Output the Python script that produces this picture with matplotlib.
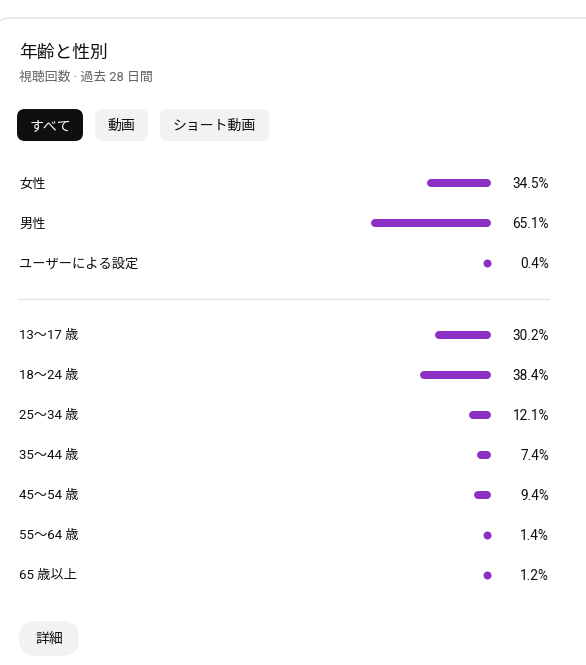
import matplotlib
matplotlib.use("Agg")
import matplotlib.pyplot as plt
from matplotlib.patches import FancyBboxPatch

plt.rcParams['font.family'] = ['Roboto', 'Noto Sans CJK JP', 'DejaVu Sans']

# data
title = "年齢と性別"
subtitle = "視聴回数 · 過去 28 日間"
tabs = ["すべて", "動画", "ショート動画"]
gender_labels = ["女性", "男性", "ユーザーによる設定"]
gender_values = [34.5, 65.1, 0.4]
age_labels = ["13〜17 歳", "18〜24 歳", "25〜34 歳", "35〜44 歳", "45〜54 歳", "55〜64 歳", "65 歳以上"]
age_values = [30.2, 38.4, 12.1, 7.4, 9.4, 1.4, 1.2]

W, H = 586, 665
PURPLE = "#8c2fc4"
PX_PER_PCT = 1.843
BAR_RIGHT = 491
BAR_H = 8

fig = plt.figure(figsize=(W / 100, H / 100), dpi=100)
ax = fig.add_axes([0, 0, 1, 1])
ax.set_xlim(0, W)
ax.set_ylim(H, 0)
ax.axis("off")

# card outline (left edge sits just off the picture)
card = FancyBboxPatch((-4, 18), W + 40, H + 40, boxstyle="round,pad=0,rounding_size=14",
                      fc="white", ec="#e3e3e3", lw=1.0)
ax.add_patch(card)

ax.text(19, 53, title, fontsize=12.8, color="#0f0f0f", va="center")
ax.text(19, 77, subtitle, fontsize=9.3, color="#606060", va="center")

# tab pills
tab_x = [(17, 83), (95, 148), (160, 269)]
for i, (lab, (x0, x1)) in enumerate(zip(tabs, tab_x)):
    fc = "#0f0f0f" if i == 0 else "#f2f2f2"
    tc = "white" if i == 0 else "#0f0f0f"
    ax.add_patch(FancyBboxPatch((x0, 109), x1 - x0, 32, boxstyle="round,pad=0,rounding_size=8",
                                fc=fc, ec="none"))
    ax.text((x0 + x1) / 2, 126, lab, fontsize=10, color=tc, va="center", ha="center")

# bar axes: x in percent, growing to the left from BAR_RIGHT
bax = fig.add_axes([0, 0, BAR_RIGHT / W, 1])
bax.set_xlim(BAR_RIGHT / PX_PER_PCT, 0)
bax.set_ylim(H, 0)
bax.axis("off")
cap = (BAR_H / 2) / PX_PER_PCT
lw_pt = BAR_H * 72 / 100


def draw_rows(labels, values, y0, step):
    for i, (lab, v) in enumerate(zip(labels, values)):
        y = y0 + i * step
        ax.text(19, y + 1, lab, fontsize=9.5, color="#0f0f0f", va="center")
        ax.text(549, y + 1, f"{v}%", fontsize=9.8, color="#0f0f0f", va="center", ha="right")
        if v * PX_PER_PCT > BAR_H:
            bax.plot([cap, v - cap], [y, y], color=PURPLE, lw=lw_pt, solid_capstyle="round")
        else:
            bax.plot([cap], [y], "o", color=PURPLE, ms=lw_pt, mec="none")


draw_rows(gender_labels, gender_values, 183, 40)
ax.plot([19, 549], [299, 299], color="#e5e5e5", lw=1)
draw_rows(age_labels, age_values, 335, 40)

# details button
ax.add_patch(FancyBboxPatch((19, 621), 60, 35, boxstyle="round,pad=0,rounding_size=17",
                            fc="#f2f2f2", ec="none"))
ax.text(49, 639, "詳細", fontsize=10, color="#0f0f0f", va="center", ha="center")

fig.savefig("out.png", dpi=100)
